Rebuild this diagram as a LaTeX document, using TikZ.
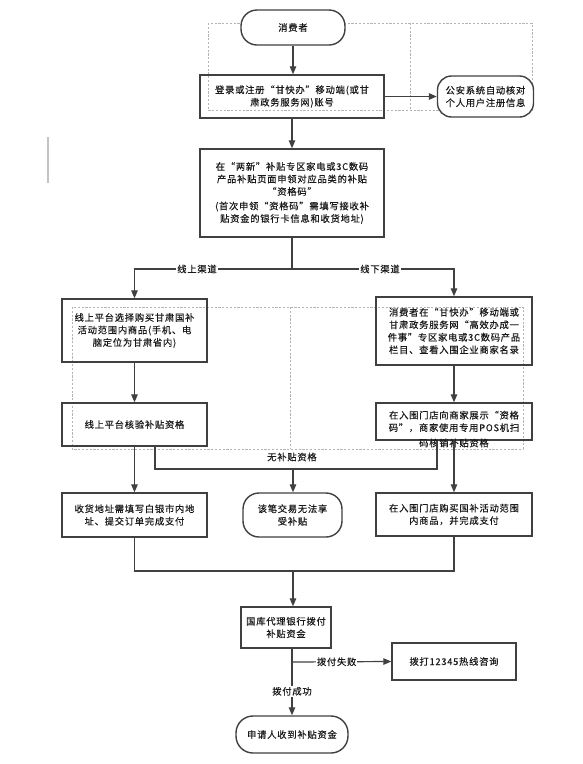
\documentclass[tikz,border=0pt]{standalone}
\usepackage{fontspec}
\newfontfamily\cjk[LetterSpace=8,FakeBold=0.35]{Noto Sans CJK SC}
\usetikzlibrary{arrows.meta}
\definecolor{edge}{HTML}{404040}
\definecolor{dash}{HTML}{B4B4B4}
\definecolor{txt}{HTML}{1A1A1A}
\tikzset{
  base/.style={draw=edge, line width=1.4pt, inner sep=0pt, align=center, text=txt,
    font=\cjk\fontsize{9.3}{12.5}\selectfont},
  rbox/.style={base, rectangle},
  sbox/.style={base, rectangle, rounded corners=16pt, fill=white},
  conn/.style={draw=edge, line width=1.2pt},
  arr/.style={conn, -{Triangle[length=8pt,width=6.5pt]}},
  lbl/.style={fill=white, inner sep=1pt, text=txt, font=\cjk\fontsize{9.3}{12}\selectfont},
  grid/.style={draw=dash, line width=0.6pt, dash pattern=on 2.2pt off 1.6pt},
}
\begin{document}
\begin{tikzpicture}[x=1pt,y=-1pt]
\useasboundingbox (0,0) rectangle (582,764);
% dashed guide grids
\draw[grid] (208,23) rectangle (532,110);
\draw[grid] (410,23) -- (410,110);
\draw[grid] (72,307) rectangle (523,449);
\draw[grid] (290,307) -- (290,449);
\draw[draw=dash!80, line width=1.2pt] (48,137) -- (48,183);

% nodes
\node[sbox, minimum width=104pt, minimum height=35pt] (c1) at (293,27.5) {消费者};
\node[rbox, minimum width=184pt, minimum height=43pt] (login) at (292,96.5)
  {登录或注册“甘快办”移动端(或甘\\肃政务服务网)账号};
\node[sbox, minimum width=96pt, minimum height=41pt, rounded corners=14pt] (police) at (485.5,96.5)
  {公安系统自动核对\\个人用户注册信息};
\node[rbox, minimum width=184pt, minimum height=88pt] (apply) at (292,193)
  {在“两新”补贴专区家电或3C数码\\产品补贴页面申领对应品类的补贴\\“资格码”\\[2pt](首次申领“资格码”需填写接收补\\贴资金的银行卡信息和收货地址)};
\node[rbox, minimum width=145pt, minimum height=63pt] (on1) at (134.5,330.5)
  {线上平台选择购买甘肃国补\\活动范围内商品(手机、电\\脑定位为甘肃省内)};
\node[rbox, minimum width=156pt, minimum height=68pt] (off1) at (454,331)
  {消费者在“甘快办”移动端或\\甘肃政务服务网“高效办成一\\件事”专区家电或3C数码产品\\栏目、查看入围企业商家名录};
\node[rbox, minimum width=145pt, minimum height=43pt] (on2) at (134.5,424.5)
  {线上平台核验补贴资格};
\node[rbox, minimum width=156pt, minimum height=37pt] (off2) at (454,421.5)
  {在入围门店向商家展示“资格\\码”，商家使用专用POS机扫};
\node[lbl, fill=none, anchor=center] (off2b) at (454,443) {码核销补贴资格};
\node[rbox, minimum width=145pt, minimum height=44pt] (on3) at (134.5,515)
  {收货地址需填写白银市内地\\址、提交订单完成支付};
\node[sbox, minimum width=99pt, minimum height=44pt] (noq) at (292.5,515)
  {该笔交易无法享\\受补贴};
\node[rbox, minimum width=156pt, minimum height=43pt] (off3) at (454,514.5)
  {在入围门店购买国补活动范围\\内商品，并完成支付};
\node[rbox, minimum width=90pt, minimum height=41pt] (bank) at (286,627.5)
  {国库代理银行拨付\\补贴资金};
\node[rbox, minimum width=124pt, minimum height=37pt] (hot) at (454,661.5)
  {拨打12345热线咨询};
\node[sbox, minimum width=112pt, minimum height=37pt, rounded corners=17pt] (recv) at (292,734.5)
  {申请人收到补贴资金};

% helper coordinates
\coordinate (br) at (292,269);
\coordinate (nqL) at (155,469);
\coordinate (nqR) at (437,469);
\coordinate (nqM) at (293,469);
\coordinate (mg) at (293,571);
\coordinate (fail) at (292,662);

% connectors
\draw[arr] (c1.south) -- (c1.south |- login.north);
\draw[arr] (login.east) -- (police.west);
\draw[arr] (login.south) -- (login.south |- apply.north);
\draw[conn] (apply.south) -- (br);
\draw[arr] (br) -| (on1.north);
\draw[arr] (br) -| (off1.north);
\node[lbl] (lon) at (197,269) {线上渠道};
\node[lbl] (loff) at (380,269) {线下渠道};
\draw[arr] (on1.south) -- (on2.north);
\draw[arr] (off1.south) -- (off2.north);
\draw[arr] (on2.south) -- (on3.north);
\draw[arr] (off2.south) -- (off3.north);
\draw[conn] (nqL |- on2.south) -- (nqL) -- (nqR) -- (nqR |- off2.south);
\draw[arr] (nqM) -- (nqM |- noq.north);
\node[lbl, fill=none] (lnq) at (292,457) {无补贴资格};
\draw[conn] (on3.south) |- (mg) -| (off3.south);
\draw[arr] (mg) -- (mg |- bank.north);
\draw[conn] (fail |- bank.south) -- (fail);
\draw[arr] (fail) -- (hot.west) node[lbl, pos=0.45] (lfail) {拨付失败};
\draw[arr] (fail) -- (fail |- recv.north) node[lbl, pos=0.55] (lsucc) {拨付成功};
\end{tikzpicture}
\end{document}
